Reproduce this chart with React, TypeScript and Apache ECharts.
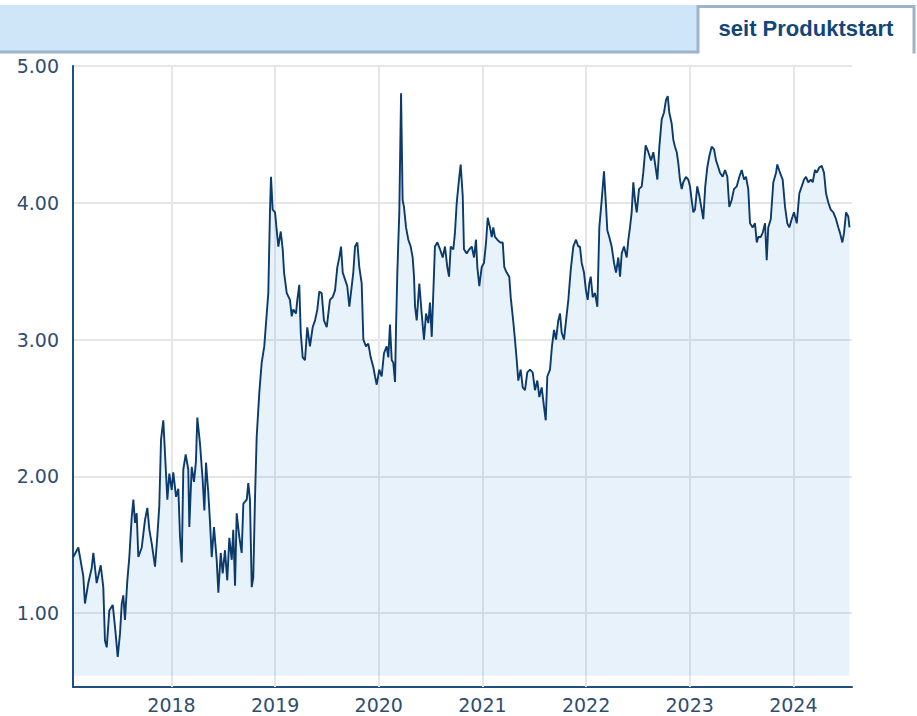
import React, { useEffect, useRef } from "react";
import * as echarts from "echarts";

// Time in decimal years, value in the chart's unit
const times = [
  2017.052, 2017.101, 2017.149, 2017.165, 2017.197, 2017.23, 2017.246, 2017.278, 2017.317, 2017.342,
  2017.358, 2017.375, 2017.4, 2017.433, 2017.455, 2017.481, 2017.503, 2017.52, 2017.535, 2017.551,
  2017.574, 2017.593, 2017.616, 2017.632, 2017.648, 2017.664, 2017.68, 2017.713, 2017.744, 2017.767,
  2017.786, 2017.809, 2017.841, 2017.863, 2017.882, 2017.899, 2017.921, 2017.937, 2017.96, 2017.979,
  2018.002, 2018.017, 2018.044, 2018.066, 2018.082, 2018.099, 2018.114, 2018.137, 2018.162, 2018.172,
  2018.195, 2018.217, 2018.236, 2018.249, 2018.275, 2018.301, 2018.317, 2018.333, 2018.355, 2018.372,
  2018.388, 2018.41, 2018.436, 2018.452, 2018.475, 2018.494, 2018.516, 2018.538, 2018.558, 2018.581,
  2018.596, 2018.613, 2018.629, 2018.654, 2018.677, 2018.693, 2018.726, 2018.741, 2018.757, 2018.774,
  2018.789, 2018.806, 2018.822, 2018.847, 2018.87, 2018.895, 2018.919, 2018.934, 2018.95, 2018.96,
  2018.976, 2018.999,
  2019.015, 2019.031, 2019.054, 2019.073, 2019.086, 2019.112, 2019.143, 2019.16, 2019.175, 2019.201,
  2019.214, 2019.233, 2019.247, 2019.266, 2019.288, 2019.31, 2019.336, 2019.362, 2019.385, 2019.407,
  2019.426, 2019.449, 2019.471, 2019.498, 2019.513, 2019.529, 2019.555, 2019.578, 2019.6, 2019.619,
  2019.636, 2019.652, 2019.674, 2019.696, 2019.716, 2019.739, 2019.754, 2019.771, 2019.793, 2019.812,
  2019.835, 2019.851, 2019.877, 2019.899, 2019.922, 2019.947, 2019.964, 2019.98,
  2020.005, 2020.028, 2020.05, 2020.076, 2020.092, 2020.108, 2020.125, 2020.14, 2020.157, 2020.166,
  2020.179, 2020.198, 2020.215, 2020.23, 2020.243, 2020.263, 2020.285, 2020.308, 2020.327, 2020.34,
  2020.35, 2020.366, 2020.391, 2020.414, 2020.436, 2020.456, 2020.478, 2020.494, 2020.511, 2020.526,
  2020.542, 2020.565, 2020.591, 2020.617, 2020.639, 2020.661, 2020.678, 2020.694, 2020.719, 2020.735,
  2020.752, 2020.774, 2020.79, 2020.81, 2020.822, 2020.848, 2020.873, 2020.897, 2020.919, 2020.938,
  2020.951, 2020.97, 2020.993,
  2021.015, 2021.035, 2021.051, 2021.073, 2021.09, 2021.105, 2021.121, 2021.144, 2021.17, 2021.196,
  2021.211, 2021.234, 2021.259, 2021.273, 2021.298, 2021.314, 2021.331, 2021.346, 2021.369, 2021.389,
  2021.411, 2021.433, 2021.459, 2021.485, 2021.507, 2021.53, 2021.549, 2021.572, 2021.594, 2021.611,
  2021.626, 2021.652, 2021.671, 2021.691, 2021.71, 2021.732, 2021.749, 2021.765, 2021.787, 2021.807,
  2021.829, 2021.852, 2021.877, 2021.903, 2021.925, 2021.941, 2021.958, 2021.98, 2021.999,
  2022.016, 2022.031, 2022.045, 2022.064, 2022.086, 2022.109, 2022.128, 2022.151, 2022.173, 2022.193,
  2022.205, 2022.224, 2022.247, 2022.27, 2022.289, 2022.311, 2022.328, 2022.344, 2022.366, 2022.392,
  2022.408, 2022.424, 2022.44, 2022.456, 2022.472, 2022.489, 2022.511, 2022.537, 2022.552, 2022.575,
  2022.601, 2022.627, 2022.649, 2022.665, 2022.688, 2022.707, 2022.73, 2022.752, 2022.771, 2022.788,
  2022.803, 2022.826, 2022.842, 2022.858, 2022.875, 2022.89, 2022.906, 2022.923, 2022.938, 2022.964,
  2022.986,
  2023.003, 2023.019, 2023.035, 2023.051, 2023.073, 2023.093, 2023.116, 2023.131, 2023.15, 2023.17,
  2023.189, 2023.212, 2023.235, 2023.254, 2023.276, 2023.292, 2023.318, 2023.341, 2023.363, 2023.382,
  2023.405, 2023.427, 2023.454, 2023.479, 2023.502, 2023.524, 2023.543, 2023.565, 2023.582, 2023.608,
  2023.63, 2023.647, 2023.662, 2023.685, 2023.704, 2023.727, 2023.743, 2023.758, 2023.782, 2023.807,
  2023.833, 2023.845, 2023.871, 2023.897, 2023.92, 2023.942, 2023.961, 2023.984,
  2024.006, 2024.033, 2024.058, 2024.081, 2024.103, 2024.122, 2024.144, 2024.168, 2024.187, 2024.209,
  2024.226, 2024.251, 2024.274, 2024.296, 2024.315, 2024.338, 2024.361, 2024.386, 2024.412, 2024.434,
  2024.45, 2024.473, 2024.489, 2024.509, 2024.53, 2024.542,
];

const values = [
  1.41, 1.48, 1.27, 1.07, 1.22, 1.33, 1.44, 1.22, 1.35, 1.19,
  0.8, 0.75, 1.02, 1.06, 0.9, 0.68, 0.85, 1.07, 1.13, 0.95,
  1.24, 1.41, 1.7, 1.83, 1.66, 1.73, 1.41, 1.48, 1.68, 1.77,
  1.61, 1.51, 1.34, 1.56, 1.78, 2.27, 2.41, 2.17, 1.83, 2.02,
  1.9, 2.03, 1.85, 1.91, 1.56, 1.37, 2.05, 2.16, 2.05, 1.63,
  2.07, 1.96, 2.11, 2.43, 2.24, 1.97, 1.75, 2.1, 1.88, 1.66,
  1.41, 1.63, 1.39, 1.15, 1.44, 1.29, 1.46, 1.24, 1.55, 1.39,
  1.61, 1.2, 1.73, 1.56, 1.44, 1.8, 1.83, 1.95, 1.83, 1.19,
  1.26, 1.85, 2.29, 2.61, 2.83, 2.95, 3.19, 3.34, 3.93, 4.19,
  3.95, 3.93,
  3.8, 3.68, 3.79, 3.66, 3.49, 3.34, 3.29, 3.17, 3.22, 3.19,
  3.29, 3.4, 3.05, 2.87, 2.85, 3.09, 2.95, 3.09, 3.14, 3.22,
  3.35, 3.34, 3.14, 3.09, 3.19, 3.29, 3.31, 3.36, 3.53, 3.6,
  3.68, 3.49, 3.44, 3.39, 3.24, 3.39, 3.49, 3.68, 3.71, 3.53,
  3.41, 3.0, 2.95, 2.97, 2.87, 2.8, 2.73, 2.67,
  2.78, 2.73, 2.9, 2.95, 2.87, 3.11, 2.85, 2.83, 2.69, 3.07,
  3.49, 3.93, 4.8, 4.02, 3.97, 3.82, 3.73, 3.68, 3.6, 3.46,
  3.24, 3.14, 3.41, 3.19, 3.0, 3.19, 3.12, 3.27, 3.02, 3.34,
  3.68, 3.71, 3.66, 3.6, 3.68, 3.53, 3.46, 3.68, 3.66, 3.78,
  4.0, 4.17, 4.28, 4.05, 3.66, 3.63, 3.66, 3.68, 3.6, 3.73,
  3.53, 3.39, 3.53,
  3.56, 3.71, 3.89, 3.82, 3.75, 3.82, 3.75, 3.73, 3.71, 3.71,
  3.53, 3.49, 3.46, 3.31, 3.13, 3.0, 2.85, 2.7, 2.78, 2.65,
  2.63, 2.76, 2.78, 2.76, 2.63, 2.7, 2.58, 2.65, 2.51, 2.41,
  2.73, 2.78, 2.95, 3.07, 3.0, 3.14, 3.19, 3.05, 3.0, 3.14,
  3.29, 3.51, 3.68, 3.73, 3.68, 3.68, 3.56, 3.49, 3.36,
  3.29, 3.41, 3.46, 3.31, 3.34, 3.24, 3.82, 4.02, 4.23, 3.97,
  3.8, 3.75, 3.68, 3.56, 3.49, 3.6, 3.46, 3.63, 3.68, 3.6,
  3.73, 3.82, 3.93, 4.15, 4.02, 3.93, 4.1, 4.12, 4.22, 4.42,
  4.37, 4.31, 4.37, 4.29, 4.17, 4.41, 4.61, 4.66, 4.75, 4.78,
  4.66, 4.58, 4.46, 4.41, 4.37, 4.29, 4.17, 4.1, 4.15, 4.19,
  4.17,
  4.12, 4.02, 3.93, 3.95, 4.12, 4.05, 3.95, 3.88, 4.12, 4.26,
  4.34, 4.41, 4.39, 4.31, 4.26, 4.22, 4.19, 4.24, 4.19, 3.97,
  4.02, 4.1, 4.12, 4.19, 4.24, 4.17, 4.19, 4.1, 3.85, 3.82,
  3.85, 3.71, 3.75, 3.75, 3.78, 3.85, 3.58, 3.82, 3.88, 4.15,
  4.22, 4.28, 4.22, 4.17, 3.97, 3.85, 3.82, 3.88,
  3.93, 3.85, 4.07, 4.12, 4.17, 4.19, 4.15, 4.17, 4.15, 4.24,
  4.22, 4.26, 4.27, 4.22, 4.07, 4.0, 3.95, 3.93, 3.88, 3.82,
  3.78, 3.71, 3.78, 3.93, 3.9, 3.82,
];

const yearTicks = [2018, 2019, 2020, 2021, 2022, 2023, 2024];
const valueTicks = [1, 2, 3, 4, 5];
const tabLabel = "seit Produktstart";

const X_MIN = 2017.0496;
const X_MAX = 2024.566;
const Y_MIN = 0.46;
const Y_MAX = 5;
const AREA_BASE = 0.543;

const labelColor = "#2f4d6e";
const axisColor = "#1d4f80";
const gridColor = "#e6e6e6";
const borderColor = "#9db3c9";

export default function App() {
  const ref = useRef<HTMLDivElement>(null);

  useEffect(() => {
    if (!ref.current) return;
    const chart = echarts.init(ref.current, undefined, { renderer: "svg" });
    const data = times.map((t, i) => [t, values[i]]);

    chart.setOption({
      animation: false,
      backgroundColor: "#ffffff",
      textStyle: { fontFamily: "'DejaVu Sans', Verdana, sans-serif" },
      grid: { left: 73, right: 65, top: 66, bottom: 29, containLabel: false },
      xAxis: {
        type: "value",
        min: X_MIN,
        max: X_MAX,
        splitNumber: 7,
        minInterval: 1,
        maxInterval: 1,
        axisLine: { show: true, onZero: false, lineStyle: { color: axisColor, width: 2 } },
        axisTick: { show: false },
        splitLine: { show: false },
        axisLabel: {
          color: labelColor,
          fontSize: 19,
          margin: 8,
          formatter: (v: number) =>
            yearTicks.some((y) => Math.abs(y - v) < 1e-6) ? String(Math.round(v)) : "",
        },
      },
      yAxis: {
        type: "value",
        min: Y_MIN,
        max: Y_MAX,
        splitNumber: 5,
        axisLine: { show: true, onZero: false, lineStyle: { color: axisColor, width: 2 } },
        axisTick: { show: false },
        splitLine: { show: true, lineStyle: { color: gridColor, width: 2 } },
        axisLabel: {
          color: labelColor,
          fontSize: 19,
          margin: 14,
          formatter: (v: number) =>
            valueTicks.some((y) => Math.abs(y - v) < 1e-6) ? v.toFixed(2) : "",
        },
      },
      series: [
        {
          type: "line",
          data,
          z: 2,
          showSymbol: false,
          symbol: "none",
          silent: true,
          lineStyle: { color: "#0b3a6c", width: 1.9 },
          areaStyle: { color: "rgba(22,122,213,0.14)", origin: AREA_BASE },
          markLine: {
            z: 1,
            silent: true,
            animation: false,
            symbol: ["none", "none"],
            label: { show: false },
            emphasis: { disabled: true },
            lineStyle: { color: gridColor, width: 2, type: "solid" },
            data: yearTicks.map((y) => ({ xAxis: y })),
          },
        },
      ],
      graphic: [
        {
          type: "rect",
          silent: true,
          z: 10,
          shape: { x: 0, y: 5, width: 698, height: 46 },
          style: { fill: "#cfe5f8" },
        },
        {
          type: "line",
          silent: true,
          z: 11,
          shape: { x1: 0, y1: 52, x2: 698, y2: 52 },
          style: { stroke: borderColor, lineWidth: 3 },
        },
        {
          type: "rect",
          silent: true,
          z: 10,
          shape: { x: 698, y: 6, width: 216, height: 48 },
          style: { fill: "#ffffff" },
        },
        {
          type: "polyline",
          silent: true,
          z: 11,
          shape: { points: [[698, 53.5], [698, 6.5], [914, 6.5], [914, 53.5]] },
          style: { stroke: borderColor, lineWidth: 3, fill: "none" },
        },
        {
          type: "text",
          silent: true,
          z: 12,
          x: 806,
          y: 28,
          style: {
            text: tabLabel,
            fontSize: 22,
            fontWeight: "bold",
            fontFamily: "'Liberation Sans', Arial, sans-serif",
            fill: "#10467a",
            align: "center",
            verticalAlign: "middle",
          },
        },
      ],
    });

    return () => chart.dispose();
  }, []);

  return (
    <div
      ref={ref}
      style={{ position: "absolute", left: 0, top: 0, width: 917, height: 716, background: "#ffffff" }}
    />
  );
}
